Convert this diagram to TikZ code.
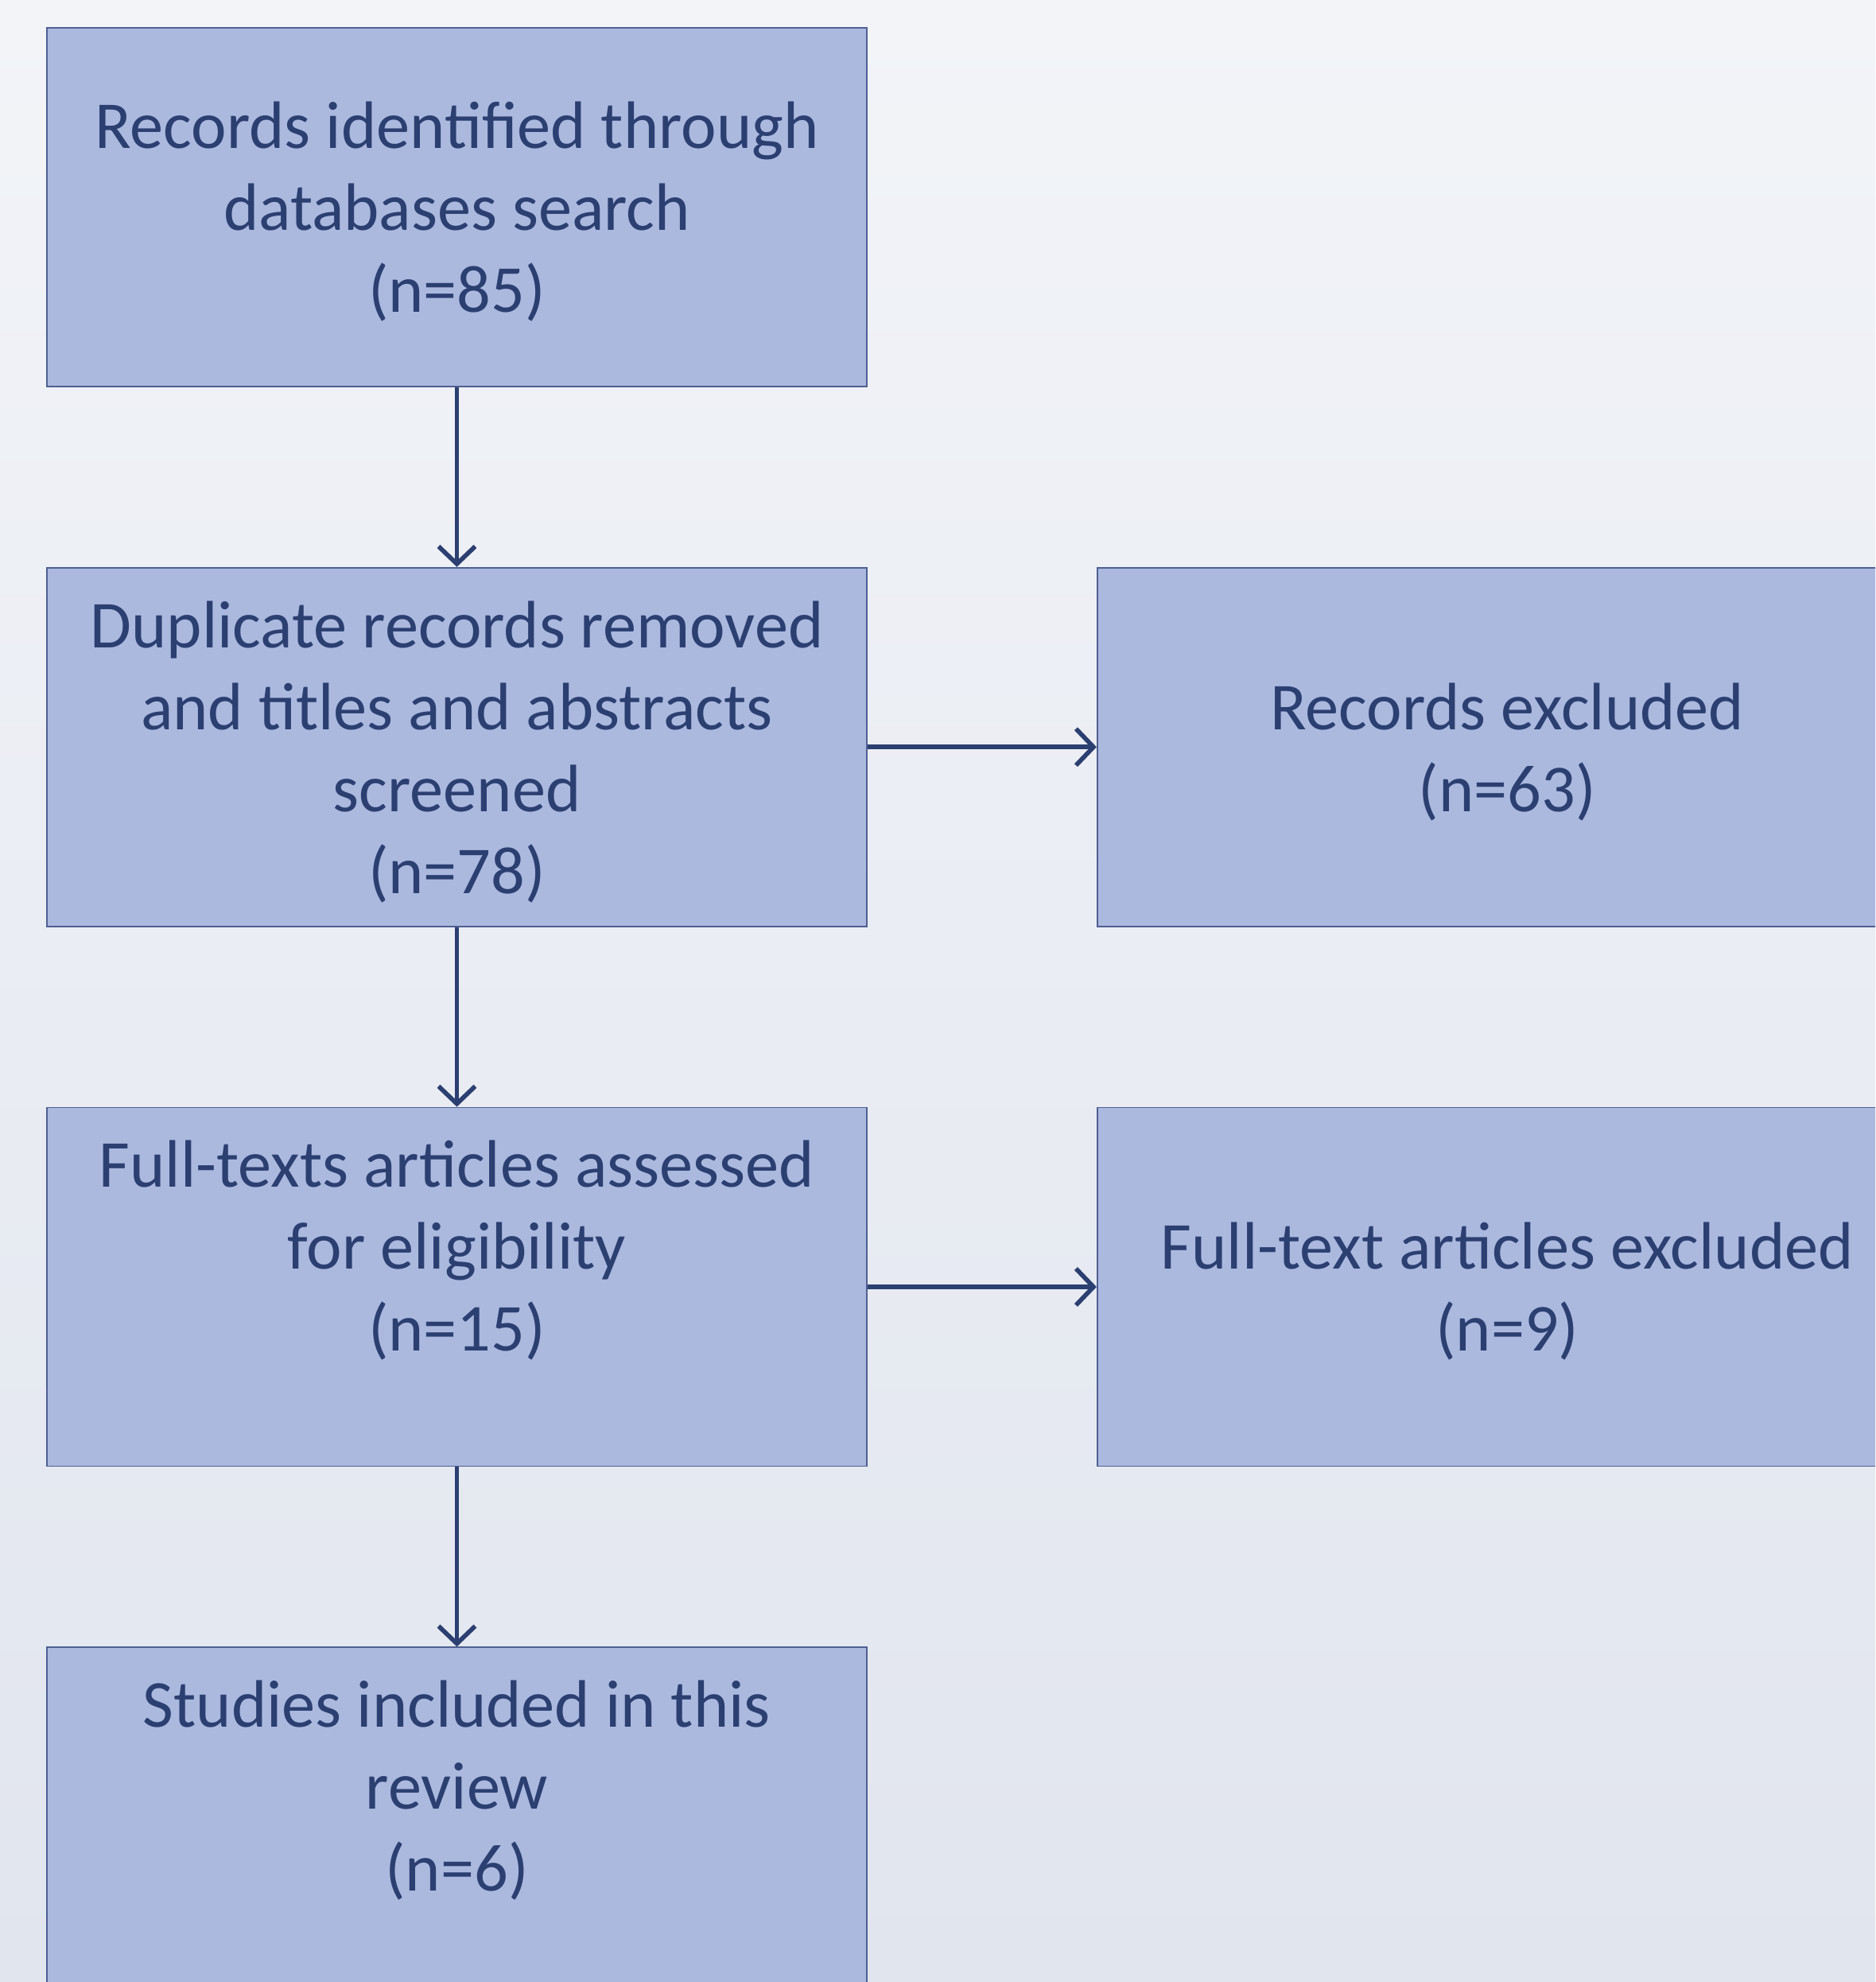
\documentclass[tikz,border=0pt]{standalone}
\usepackage{fontspec}
\setmainfont{Carlito}
\usetikzlibrary{arrows.meta, positioning}
\definecolor{boxfill}{HTML}{ABB9DF}
\definecolor{boxline}{HTML}{4F5F92}
\definecolor{ink}{HTML}{2C3F71}
\definecolor{bgtop}{HTML}{F2F4F8}
\definecolor{bgbot}{HTML}{E1E5EE}
\tikzset{
  box/.style={rectangle, draw=boxline, line width=0.5pt, fill=boxfill, text=ink, minimum width=10.31cm, minimum height=4.51cm, inner sep=0pt, text depth=0pt, align=center, font=\fontsize{24}{29.3}\selectfont},
  arrow/.style={draw=ink, line width=1.6pt, -{Straight Barb[length=0.22cm, width=0.46cm]}}
}
\begin{document}
\begin{tikzpicture}[node distance=2.26cm and 2.88cm]

% Page and background
\path[use as bounding box] (0,0) rectangle (23.58,-24.92);
\clip (0,0) rectangle (23.58,-24.92);
\shade[top color=bgtop, bottom color=bgbot] (0,0) rectangle (23.58,-24.92);

% Left column
\node[box] (ident) at (5.745,-2.605) {Records identified through\\ databases search\\ (n=85)};
\node[box, below=of ident] (screen) {Duplicate records removed\\ and titles and abstracts\\ screened\\ (n=78)};
\node[box, below=of screen] (full) {Full-texts articles assessed\\ for eligibility\\ (n=15)\\ ~};
\node[box, below=of full] (incl) {Studies included in this\\ review\\ (n=6)\\ ~};

% Right column
\node[box, right=of screen] (excl) {Records excluded\\ (n=63)};
\node[box, right=of full] (fullexcl) {Full-text articles excluded\\ (n=9)};

% Connections
\draw[arrow] (ident.south) -- (screen.north);
\draw[arrow] (screen.south) -- (full.north);
\draw[arrow] (full.south) -- (incl.north);
\draw[arrow] (screen.east) -- (excl.west);
\draw[arrow] (full.east) -- (fullexcl.west);

\end{tikzpicture}
\end{document}
